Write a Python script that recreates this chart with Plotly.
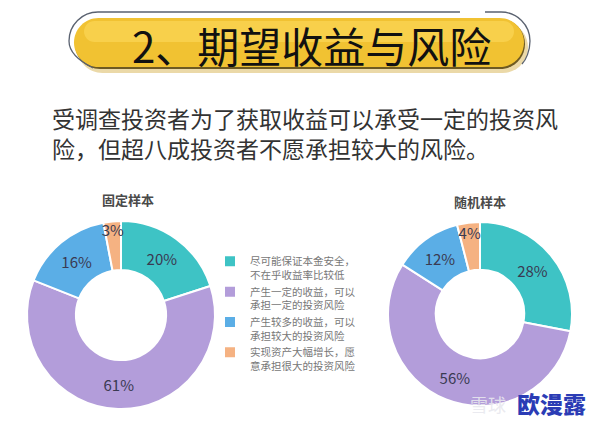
import plotly.graph_objects as go

# The page body has an 8px default margin, so the figure is drawn 8px smaller
# and coordinates below (given in screenshot pixels) are converted accordingly.
OFF = 8
W, H = 594 - OFF, 424 - OFF

# ---- data ----
categories = [
    "尽可能保证本金安全，<br>不在乎收益率比较低",
    "产生一定的收益，可以<br>承担一定的投资风险",
    "产生较多的收益，可以<br>承担较大的投资风险",
    "实现资产大幅增长，愿<br>意承担很大的投资风险",
]
fixed_sample = [20, 61, 16, 3]
random_sample = [28, 56, 12, 4]
panel_titles = ["固定样本", "随机样本"]
colors = ["#3EC3C5", "#B39DDA", "#5BAEE6", "#F5B282"]

title_text = "2、期望收益与风险"
subtitle_lines = ["受调查投资者为了获取收益可以承受一定的投资风",
                  "险，但超八成投资者不愿承担较大的风险。"]

FONT = "Noto Sans CJK SC"


def px(x):
    return (x - OFF) / W


def py(y):
    return 1 - (y - OFF) / H


def dom(cx, cy, r):
    return dict(x=[px(cx - r), px(cx + r)], y=[py(cy + r), py(cy - r)])


fig = go.Figure()
for i, (vals, d) in enumerate([(fixed_sample, dom(121, 315, 94)),
                                (random_sample, dom(480, 314, 92))]):
    fig.add_trace(go.Pie(
        labels=categories, values=vals, hole=0.48, sort=False,
        direction="clockwise", rotation=0,
        marker=dict(colors=colors, line=dict(color="white", width=2)),
        texttemplate="%{value}%", textposition="inside",
        insidetextorientation="horizontal",
        textfont=dict(family=FONT, size=15, color="#3A3A52"),
        domain=d, showlegend=(i == 0), hoverinfo="label+percent",
    ))


def pill(L, R, T, B):
    r = (B - T) / 2
    cy = (T + B) / 2
    k = 0.5523 * r
    pts = [
        ("M", [(L + r, T)]), ("L", [(R - r, T)]),
        ("C", [(R - r + k, T), (R, cy - k), (R, cy)]),
        ("C", [(R, cy + k), (R - r + k, B), (R - r, B)]),
        ("L", [(L + r, B)]),
        ("C", [(L + r - k, B), (L, cy + k), (L, cy)]),
        ("C", [(L, cy - k), (L + r - k, T), (L + r, T)]),
    ]
    s = ""
    for cmd, ps in pts:
        s += cmd + " " + " ".join(f"{px(a):.5f},{py(b):.5f}" for a, b in ps) + " "
    return s + "Z"


shapes = []
# soft shadow
shapes.append(dict(type="path", xref="paper", yref="paper", path=pill(77, 528, 22, 73),
                   fillcolor="#EBD9A8", line=dict(width=0), layer="below"))
# dark bottom edge
shapes.append(dict(type="path", xref="paper", yref="paper", path=pill(75, 525, 19, 69),
                   fillcolor="#6E5A22", line=dict(width=0), layer="below"))
# main pill
shapes.append(dict(type="path", xref="paper", yref="paper", path=pill(74, 524, 18, 67),
                   fillcolor="#F1C232", line=dict(width=0), layer="below"))
# highlight
shapes.append(dict(type="path", xref="paper", yref="paper", path=pill(84, 514, 21, 42),
                   fillcolor="rgba(255,222,100,0.5)", line=dict(width=0), layer="below"))

# outline arcs (top)
L, R, T, B = 69, 530, 12, 70
r = (B - T) / 2
cy = (T + B) / 2
k = 0.5523 * r
p1 = (f"M {px(L + r - k * 0.3):.5f},{py(B - 2):.5f} "
      f"C {px(L + 2):.5f},{py(cy + k):.5f} {px(L):.5f},{py(cy + 5):.5f} {px(L):.5f},{py(cy):.5f} "
      f"C {px(L):.5f},{py(cy - k):.5f} {px(L + r - k):.5f},{py(T):.5f} {px(L + r):.5f},{py(T):.5f} "
      f"L {px(460):.5f},{py(T):.5f}")
p2 = (f"M {px(485):.5f},{py(T):.5f} L {px(R - r):.5f},{py(T):.5f} "
      f"C {px(R - r + k):.5f},{py(T):.5f} {px(R):.5f},{py(cy - k):.5f} {px(R):.5f},{py(cy):.5f} "
      f"C {px(R):.5f},{py(cy + k * 0.6):.5f} {px(R - 4):.5f},{py(B - 10):.5f} {px(R - 8):.5f},{py(B - 6):.5f}")
for p in (p1, p2):
    shapes.append(dict(type="path", xref="paper", yref="paper", path=p,
                       line=dict(color="#5A6270", width=1.3), layer="below"))

annotations = [
    dict(text=title_text, x=px(311), y=py(44), xref="paper", yref="paper",
         showarrow=False, xanchor="center", yanchor="middle",
         font=dict(family=FONT, size=42, color="#111111")),
    dict(text=subtitle_lines[0], x=px(51), y=py(117.5), xref="paper", yref="paper",
         showarrow=False, xanchor="left", yanchor="middle", borderpad=0,
         font=dict(family=FONT, size=23, color="#333333")),
    dict(text=subtitle_lines[1], x=px(51), y=py(147.5), xref="paper", yref="paper",
         showarrow=False, xanchor="left", yanchor="middle", borderpad=0,
         font=dict(family=FONT, size=23, color="#333333")),
    dict(text=panel_titles[0], x=px(128), y=py(199), xref="paper", yref="paper",
         showarrow=False, xanchor="center", yanchor="middle",
         font=dict(family=FONT, size=13, color="#4A4A4A", weight=600)),
    dict(text=panel_titles[1], x=px(480), y=py(201), xref="paper", yref="paper",
         showarrow=False, xanchor="center", yanchor="middle",
         font=dict(family=FONT, size=13, color="#4A4A4A", weight=600)),
    dict(text="雪球", x=px(488), y=py(404), xref="paper", yref="paper",
         showarrow=False, xanchor="center", yanchor="middle",
         font=dict(family=FONT, size=18, color="rgba(232,232,238,0.9)")),
    dict(text="欧漫露", x=px(551), y=py(403), xref="paper", yref="paper",
         showarrow=False, xanchor="center", yanchor="middle",
         font=dict(family=FONT, size=23, color="#2B3CB5", weight=800)),
]

fig.update_layout(
    width=W, height=H, margin=dict(l=0, r=0, t=0, b=0),
    paper_bgcolor="white", plot_bgcolor="white",
    shapes=shapes, annotations=annotations,
    uniformtext=dict(minsize=15, mode="show"),
    legend=dict(x=px(210), y=py(248), xanchor="left", yanchor="top",
                font=dict(family=FONT, size=10.5, color="#777777"),
                valign="top", itemwidth=30, bgcolor="rgba(0,0,0,0)",
                traceorder="normal"),
    font=dict(family=FONT),
)

fig.write_html("out.html")
